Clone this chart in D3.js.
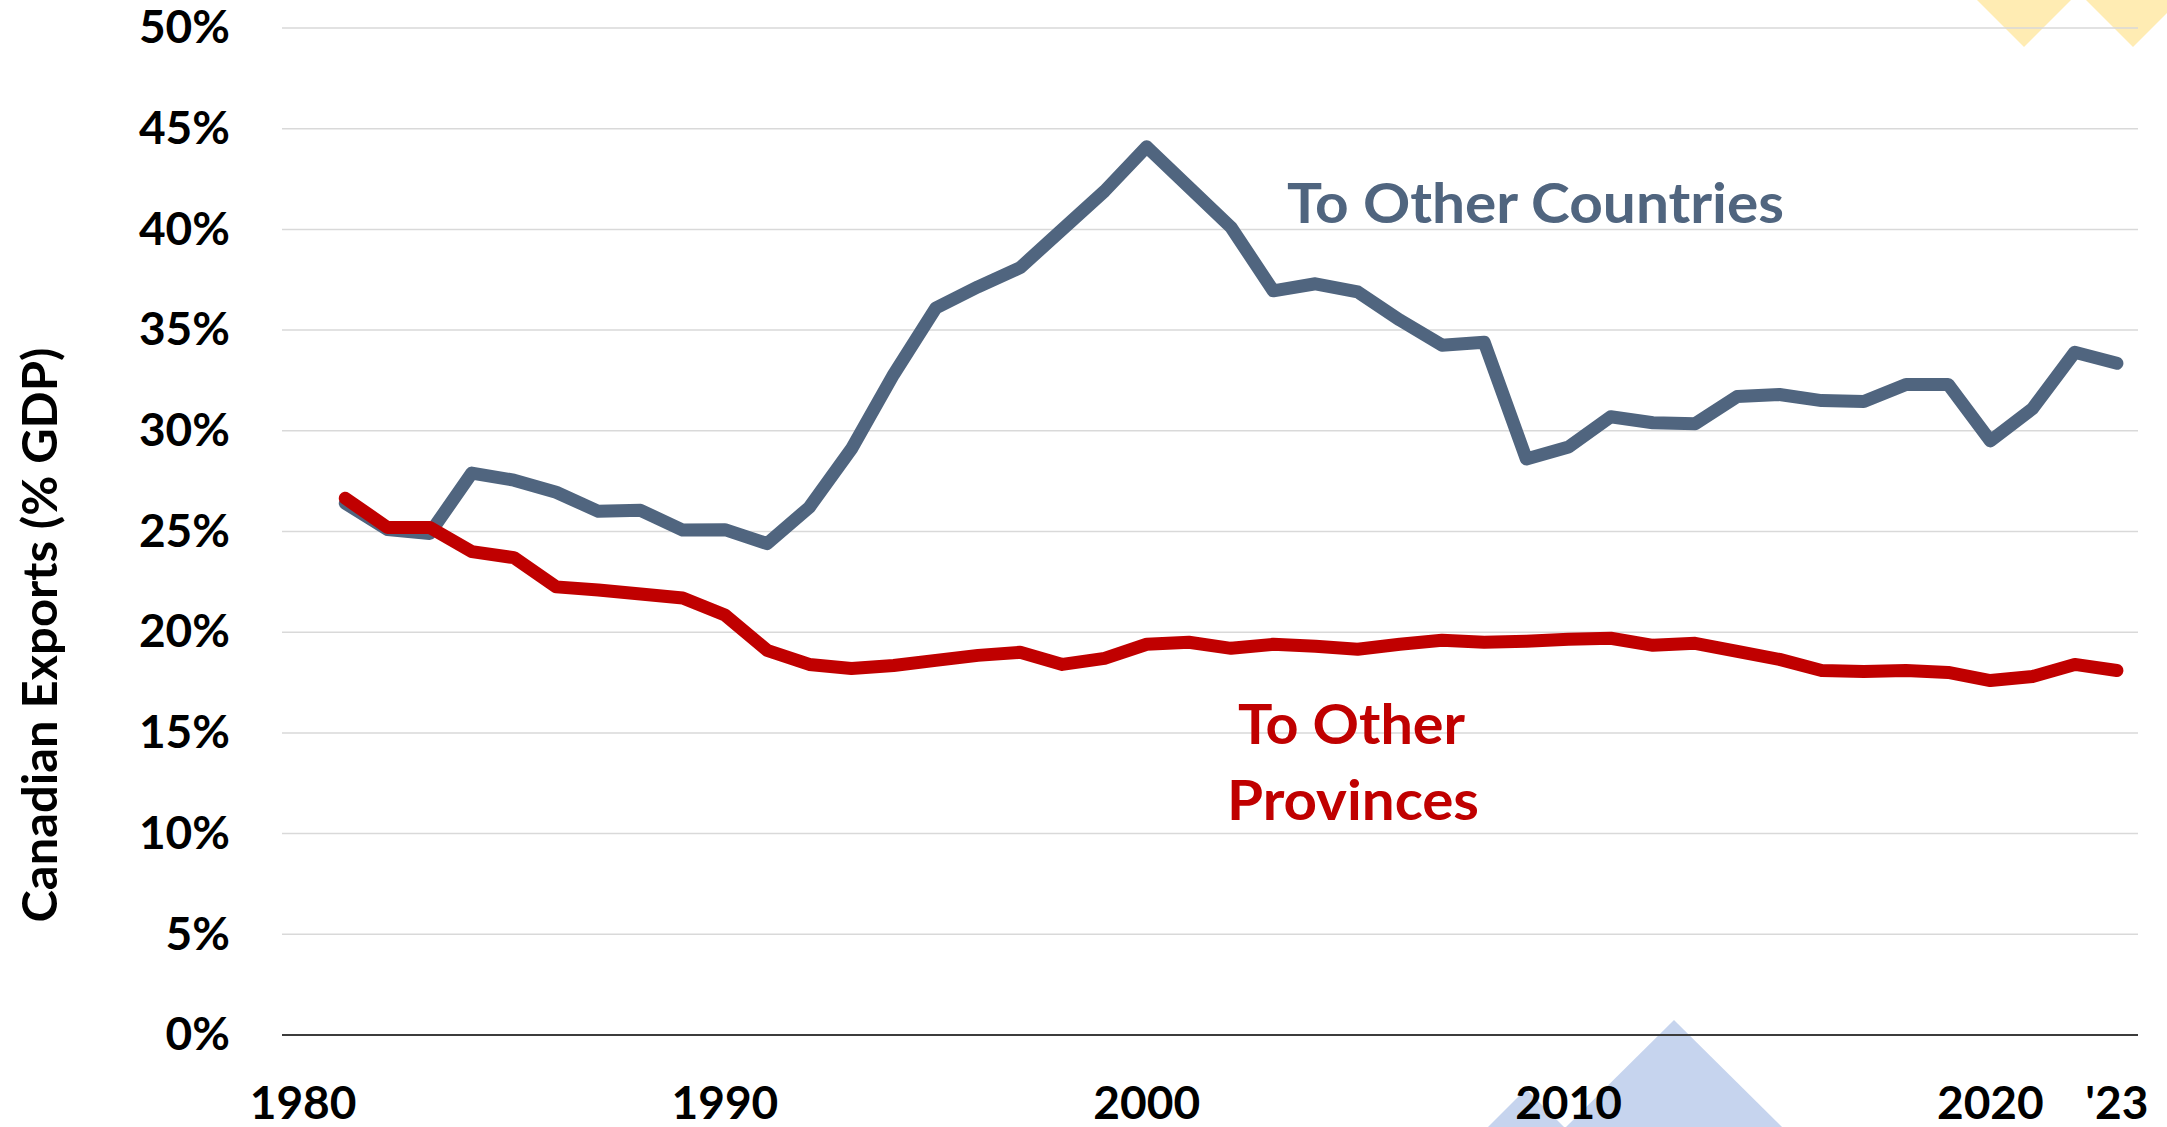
<!DOCTYPE html>
<html>
<head>
<meta charset="utf-8">
<script src="https://cdn.jsdelivr.net/npm/d3@7"></script>
<style>
  body { margin: 0; background: #fff; }
  svg { display: block; font-family: Lato, "Open Sans", sans-serif; font-weight: 700; }
</style>
</head>
<body>
<div id="chart"></div>
<script>
(function(d3) {

// categories (years on the axis) and data years
var axisYears = [1980, 1981, 1982, 1983, 1984, 1985, 1986, 1987, 1988, 1989,
  1990, 1991, 1992, 1993, 1994, 1995, 1996, 1997, 1998, 1999,
  2000, 2001, 2002, 2003, 2004, 2005, 2006, 2007, 2008, 2009,
  2010, 2011, 2012, 2013, 2014, 2015, 2016, 2017, 2018, 2019,
  2020, 2021, 2022, 2023];
var years = axisYears.slice(1);

// exports to other countries, % of GDP (1981-2023)
var toCountries = [26.4, 25.1, 24.9, 27.9, 27.55, 26.95, 26.0, 26.05, 25.07, 25.09,
  24.4, 26.2, 29.1, 32.8, 36.1, 37.15, 38.1, 40.0, 41.9, 44.1,
  42.1, 40.1, 36.95, 37.3, 36.9, 35.5, 34.25, 34.4, 28.6, 29.2,
  30.7, 30.4, 30.35, 31.7, 31.8, 31.5, 31.45, 32.3, 32.3, 29.5,
  31.1, 33.9, 33.35];

// exports to other provinces, % of GDP (1981-2023)
var toProvinces = [26.65, 25.2, 25.2, 24.0, 23.7, 22.25, 22.1, 21.9, 21.7, 20.85,
  19.1, 18.4, 18.2, 18.35, 18.6, 18.85, 19.0, 18.4, 18.7, 19.4,
  19.5, 19.2, 19.4, 19.3, 19.15, 19.4, 19.6, 19.5, 19.55, 19.65,
  19.7, 19.35, 19.45, 19.05, 18.65, 18.1, 18.05, 18.1, 18.0, 17.6,
  17.8, 18.4, 18.1];

// tick labels
var yTicks = [0, 5, 10, 15, 20, 25, 30, 35, 40, 45, 50];
var xTicks = [1980, 1990, 2000, 2010, 2020, 2023];
var xTickLabels = ['1980', '1990', '2000', '2010', '2020', "'23"];

var width = 2167,
    height = 1127,
    left = 282, right = 2138, top = 28, bottom = 1035;

var blue = '#50657f',
    red = '#c00000';

var svg = d3.select('#chart')
  .append('svg')
  .attr('width', width)
  .attr('height', height);

// background decoration triangles
var deco = svg.append('g');
deco.append('path').attr('d', 'M1977,0 L2071,0 L2024,47 Z').attr('fill', '#ffecb3');
deco.append('path').attr('d', 'M2086,0 L2180,0 L2133,47 Z').attr('fill', '#ffecb3');
deco.append('path').attr('d', 'M1488,1127 L1526,1089 L1564,1127 Z').attr('fill', '#c6d4ee');
deco.append('path').attr('d', 'M1566,1127 L1674,1020 L1782,1127 Z').attr('fill', '#c6d4ee');

var x = d3.scaleBand()
  .domain(axisYears)
  .range([left, right]);

function cx(yr) { return x(yr) + x.bandwidth() / 2; }

var y = d3.scaleLinear()
  .domain([0, 50])
  .range([bottom, top]);

// gridlines
svg.append('g')
  .selectAll('line')
  .data(yTicks.filter(function(t) { return t > 0; }))
  .enter()
  .append('line')
  .attr('x1', left)
  .attr('x2', right)
  .attr('y1', function(d) { return y(d); })
  .attr('y2', function(d) { return y(d); })
  .attr('stroke', '#d9d9d9')
  .attr('stroke-width', 1.5);

// zero axis
svg.append('line')
  .attr('x1', left).attr('x2', right)
  .attr('y1', y(0)).attr('y2', y(0))
  .attr('stroke', '#3c3c3c')
  .attr('stroke-width', 2);

// y axis labels
var yAxis = svg.append('g')
  .attr('transform', 'translate(' + left + ',0)')
  .call(d3.axisLeft(y)
    .tickValues(yTicks)
    .tickSize(0)
    .tickPadding(52)
    .tickFormat(function(d) { return d + '%'; }));
yAxis.select('.domain').remove();
yAxis.selectAll('text')
  .attr('font-family', 'Lato, sans-serif')
  .attr('font-weight', 700)
  .attr('font-size', 46)
  .attr('fill', '#000');

// x axis labels
var xAxis = svg.append('g')
  .attr('transform', 'translate(0,' + bottom + ')')
  .call(d3.axisBottom(x)
    .tickValues(xTicks)
    .tickSize(0)
    .tickPadding(51)
    .tickFormat(function(d, i) { return xTickLabels[i]; }));
xAxis.select('.domain').remove();
xAxis.selectAll('text')
  .attr('font-family', 'Lato, sans-serif')
  .attr('font-weight', 700)
  .attr('font-size', 46)
  .attr('fill', '#000');

// y axis title
svg.append('text')
  .attr('transform', 'translate(57,635) rotate(-90)')
  .attr('text-anchor', 'middle')
  .attr('font-size', 48)
  .attr('fill', '#000')
  .attr('textLength', 575)
  .attr('lengthAdjust', 'spacingAndGlyphs')
  .text('Canadian Exports (% GDP)');

var line = d3.line()
  .x(function(d) { return cx(d[0]); })
  .y(function(d) { return y(d[1]); });

svg.append('path')
  .datum(d3.zip(years, toCountries))
  .attr('d', line)
  .attr('fill', 'none')
  .attr('stroke', blue)
  .attr('stroke-width', 13)
  .attr('stroke-linejoin', 'round')
  .attr('stroke-linecap', 'round');

svg.append('path')
  .datum(d3.zip(years, toProvinces))
  .attr('d', line)
  .attr('fill', 'none')
  .attr('stroke', red)
  .attr('stroke-width', 13)
  .attr('stroke-linejoin', 'round')
  .attr('stroke-linecap', 'round');

// series labels
svg.append('text')
  .attr('x', 1287).attr('y', 223)
  .attr('font-size', 56)
  .attr('fill', blue)
  .attr('textLength', 497)
  .attr('lengthAdjust', 'spacingAndGlyphs')
  .text('To Other Countries');

svg.append('text')
  .attr('x', 1238).attr('y', 744)
  .attr('font-size', 56)
  .attr('fill', red)
  .attr('textLength', 227)
  .attr('lengthAdjust', 'spacingAndGlyphs')
  .text('To Other');

svg.append('text')
  .attr('x', 1227).attr('y', 820)
  .attr('font-size', 56)
  .attr('fill', red)
  .attr('textLength', 252)
  .attr('lengthAdjust', 'spacingAndGlyphs')
  .text('Provinces');

})(window.d3);
</script>
</body>
</html>
